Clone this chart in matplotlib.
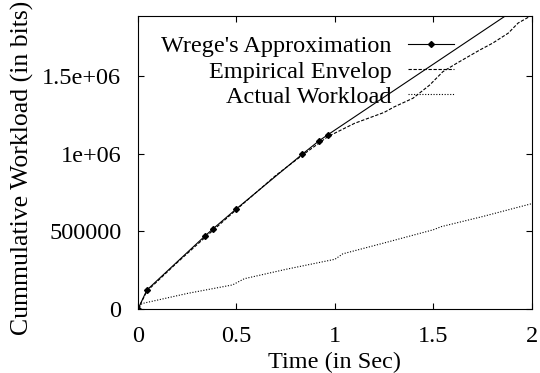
import matplotlib
matplotlib.use("Agg")
import matplotlib.pyplot as plt

plt.rcParams['font.family'] = ['Liberation Serif', 'DejaVu Serif']

# Wrege's approximation (piecewise linear, with breakpoints)
wrege_t = [0.0, 0.045, 0.34, 0.38, 0.50, 0.835, 0.92, 0.965, 2.0]
wrege_w = [0, 122000, 470000, 515000, 645000, 997000, 1083000, 1122000, 2000000]

# Empirical envelope
env_t = [0.0, 0.045, 0.2, 0.34, 0.5, 0.7, 0.835, 0.965, 1.1, 1.25, 1.3, 1.396,
         1.48, 1.548, 1.618, 1.677, 1.736, 1.8, 1.88, 1.93, 2.0]
env_w = [0, 115000, 300000, 460000, 640000, 860000, 990000, 1110000, 1195000,
         1265000, 1300000, 1356000, 1440000, 1527000, 1581000, 1624000, 1667000,
         1710000, 1775000, 1840000, 1890000]

# Actual workload
act_t = [0.0, 0.02, 0.25, 0.48, 0.54, 0.75, 1.0, 1.04, 1.25, 1.5, 1.54, 1.75, 2.0]
act_w = [0, 35000, 100000, 155000, 195000, 255000, 320000, 355000, 425000,
         510000, 530000, 595000, 678000]

xticks = [0, 0.5, 1, 1.5, 2]
xticklabels = ["0", "0.5", "1", "1.5", "2"]
yticks = [0, 500000, 1000000, 1500000]
yticklabels = ["0", "500000", "1e+06", "1.5e+06"]

fs = 17.5

fig = plt.figure(figsize=(5.4, 3.73), dpi=100)
ax = fig.add_axes([0.2556, 0.1716, 0.7294, 0.7854])

ax.plot(wrege_t, wrege_w, color='black', lw=0.8, marker='D', markersize=3,
        label="Wrege's Approximation")
ax.plot(env_t, env_w, color='black', lw=0.8, linestyle=(0, (3, 1.5)),
        label="Empirical Envelop")
ax.plot(act_t, act_w, color='black', lw=0.8, linestyle=(0, (1, 1.5)),
        label="Actual Workload")

ax.set_xlim(0, 2)
ax.set_ylim(0, 1885000)
ax.set_xticks(xticks)
ax.set_xticklabels(xticklabels)
ax.set_yticks(yticks)
ax.set_yticklabels(yticklabels)
ax.tick_params(direction='in', top=True, right=True, labelsize=fs, length=4,
               width=0.8)
ax.tick_params(axis='x', pad=12)
ax.tick_params(axis='y', pad=12)
for s in ax.spines.values():
    s.set_linewidth(0.8)

ax.set_xlabel("Time (in Sec)", fontsize=fs, labelpad=3.5)
ax.set_ylabel("Cummulative Workload (in bits)", fontsize=18.5)
ax.yaxis.set_label_coords(-0.264, 0.481)

ax.legend(loc='upper right', bbox_to_anchor=(0.802, 0.934), frameon=False,
          markerfirst=False, fontsize=fs, handlelength=1.9, handletextpad=0.65,
          labelspacing=0.13, borderaxespad=0.0, borderpad=0.0)

fig.savefig("out.png", dpi=100)
